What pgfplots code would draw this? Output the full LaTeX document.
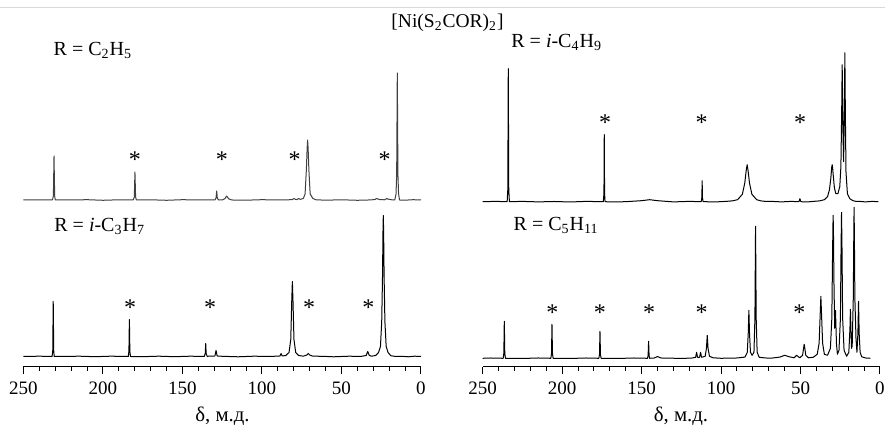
\documentclass[border=0pt]{standalone}
\usepackage{pgfplots}
\pgfplotsset{compat=1.18}
\usepackage{fontspec}
\setmainfont{Liberation Serif}
\newcommand{\lbl}{\fontsize{10}{11}\selectfont}
\newcommand{\astmark}[2]{\node[inner sep=0pt,font=\fontsize{12}{12}\selectfont] at (axis cs:#1,#2) {*};}
\pgfplotsset{
  spec/.style={scale only axis, x dir=reverse, xmin=0, xmax=250, clip=false,
    anchor=south west},
  specline/.style={black, line width=0.5pt, line join=round},
  bot/.style={hide y axis, axis x line*=bottom, x axis line style={-, line width=0.5pt},
    tick align=outside, xtick={0,50,...,250}, minor x tick num=4,
    major tick length=3.5pt, minor tick length=2pt,
    every tick/.style={black, line width=0.5pt},
    xticklabel style={font=\fontsize{9.5}{9.5}\selectfont, yshift=-0.5pt},
    /pgf/number format/assume math mode=true},
}
\begin{document}
\begin{tikzpicture}[x=1pt,y=1pt]
\useasboundingbox (0pt,0pt) rectangle (442.5pt,213pt);
\draw[gray!30, line width=0.5pt] (0pt,209pt) -- (442.5pt,209pt);

% left top: R = C2H5
\begin{axis}[spec, hide axis, at={(11.75pt,108pt)}, width=198.75pt, height=75pt, ymin=-10, ymax=140]
\addplot[specline, black!75] coordinates {
(0,0)(5,0.3)(10,-0.2)(13.5,0)(14.1,6)(14.5,25)(14.9,127)(15.3,25)(15.7,6)(16.5,0)(19,0.3)(21,1.0)(21.5,1.5)(22,1.0)(23,0.2)(26,0.4)(28,1.5)(29,0.4)(33,0)(40,-0.3)(50,0.2)(60,-0.2)(66,0.2)(68,1.5)(69.7,6)(70.5,30)(71.0,52)(71.3,60)(71.6,52)(72.1,30)(72.9,6)(74,1.5)(76,0.6)(77,1.5)(78,0.4)(79,0.6)(80,1.5)(81,0.3)(90,0)(100,0.3)(110,-0.2)(119,0)(121,1.2)(122.2,4)(123.4,1.2)(125,0)(127.5,0.2)(128.1,2)(128.5,9)(128.9,2)(129.5,0.2)(140,0)(150,0.3)(160,-0.3)(170,0.2)(179,0)(179.5,3)(179.9,28)(180.3,3)(181,0)(190,0.2)(200,-0.3)(210,0.3)(220,0)(230,0)(230.4,4)(230.8,44)(231.2,4)(231.8,0)(240,0.2)(250,0)
};
\astmark{180}{40}\astmark{125.3}{40}\astmark{79.4}{40}\astmark{22.8}{40}
\end{axis}

% left bottom: R = i-C3H7
\begin{axis}[spec, bot, at={(11.75pt,29.5pt)}, width=198.75pt, height=75.25pt, ymin=-10.5, ymax=140]
\addplot[specline] coordinates {
(0,0)(4,0.3)(8,-0.3)(12,0.2)(16,0)(19,0.8)(20.7,4)(21.9,10)(22.7,35)(23.2,80)(23.5,125)(23.7,141)(23.9,125)(24.2,80)(24.7,35)(25.5,10)(26.7,4)(28.5,1)(31,0.3)(32.5,1)(33.5,5)(34.5,1)(38,0)(45,0.3)(55,-0.3)(62,0.2)(68,0.3)(70,1.5)(70.9,3)(71.8,1.5)(74,0.3)(77,1)(78.8,4)(79.9,17)(80.5,55)(80.9,75)(81.3,55)(81.9,17)(83,4)(85,1)(87.3,0.5)(88,3)(88.7,0.5)(95,0)(105,0.3)(115,-0.3)(125,0.2)(128.2,0.5)(128.9,6)(129.6,0.5)(134.5,0.2)(135.1,3)(135.4,13)(135.7,3)(136.3,0)(145,0.3)(155,-0.2)(165,0.3)(175,-0.2)(182.7,0)(183.1,5)(183.4,37)(183.7,5)(184.1,0)(195,0.3)(205,-0.2)(215,0.3)(225,0)(230.7,0)(231.0,6)(231.3,55)(231.6,6)(232,0)(240,0.3)(250,0)
};
\astmark{183}{49}\astmark{132.7}{49}\astmark{70.3}{49}\astmark{33.1}{49}
\end{axis}

% right top: R = i-C4H9
\begin{axis}[spec, hide axis, at={(241.35pt,107.15pt)}, width=198.65pt, height=80pt, ymin=-10, ymax=150]
\addplot[specline] coordinates {
(1,0)(5,0.3)(9,-0.2)(13,0.3)(15,0.3)(17,1)(19,3)(20.5,8)(21.4,30)(21.8,90)(22.1,149)(22.4,90)(22.9,40)(23.3,70)(23.6,115)(23.8,137)(24.1,90)(24.6,35)(25.3,15)(26.5,8)(27.8,8)(28.7,14)(29.4,26)(29.8,34)(30.1,37)(30.4,34)(30.9,24)(31.8,12)(33,5)(35,2)(38,0.8)(42,0.3)(46,-0.3)(49.8,0)(50.4,3)(51,0)(56,0.3)(62,-0.2)(68,0.3)(72,0.3)(75,0.8)(77.6,2)(80.6,7.4)(82.1,18.5)(83,31)(83.6,37)(84.2,31)(85.1,18.5)(86.6,7.4)(89.6,2)(93,0.8)(97,0.3)(103,-0.2)(111.3,0)(111.7,4)(111.9,21)(112.1,4)(112.5,0)(120,0.3)(130,-0.2)(140,1)(145,2)(150,1)(160,0)(168,-0.3)(173,0)(173.3,8)(173.5,67)(173.7,8)(174.1,0)(185,0.3)(195,-0.3)(205,0.2)(215,-0.2)(225,0.3)(233.2,0)(233.6,12)(233.9,133)(234.2,12)(234.6,0)(242,0.3)(250,0)
};
\astmark{173}{79}\astmark{112.3}{79}\astmark{50.3}{79}
\end{axis}

% right bottom: R = C5H11
\begin{axis}[spec, bot, at={(241.35pt,29.5pt)}, width=198.65pt, height=79.35pt, ymin=-8.7, ymax=150]
\addplot[specline] coordinates {
(6,0)(9,0.3)(11.5,1.5)(12.5,6)(13.1,25)(13.5,57)(13.9,25)(14.5,6)(15.1,20)(15.8,60)(16.1,120)(16.3,151)(16.5,120)(16.8,60)(17.5,12)(17.9,10)(18.3,30)(18.6,49)(18.9,30)(19.6,6)(21,2)(22.6,8)(23.5,40)(23.9,110)(24.2,146)(24.5,110)(24.9,40)(25.8,8)(26.8,4)(27.4,15)(28,48)(28.5,30)(29,80)(29.3,130)(29.5,143)(29.8,110)(30.3,40)(31.2,10)(33,3)(35,4)(36.1,15)(36.8,45)(37.2,62)(37.6,45)(38.3,15)(39.5,4)(42,1)(45,0.5)(46.7,3)(47.3,10)(47.7,14)(48.1,10)(48.7,3)(50.5,0.5)(52.5,3)(54,0.5)(57,1.5)(60,3)(63,1.2)(68,0.2)(72,0.3)(76,1)(77.3,6)(77.9,40)(78.3,132)(78.7,40)(79.3,6)(80.5,3)(81.5,6)(82.1,25)(82.5,48)(82.9,25)(83.5,6)(85,1.2)(90,0.3)(100,0)(105,0.5)(107.3,2)(108.2,10)(108.7,23)(109.2,10)(110,2)(112.3,1)(112.9,6)(113.5,1)(114.8,1)(115.4,6)(116,1)(118,0.3)(125,-0.2)(133,0.2)(138,0.3)(140,1.8)(142,0.3)(145,0)(145.3,3)(145.6,17)(145.9,3)(146.3,0)(155,0.3)(165,-0.2)(175.5,0)(175.9,4)(176.2,27)(176.5,4)(176.9,0)(185,0.3)(195,-0.2)(205.7,0)(206.1,5)(206.4,34)(206.7,5)(207.1,0)(215,0.3)(225,-0.2)(235.7,0)(236.1,5)(236.4,37)(236.7,5)(237.1,0)(245,0.3)(250,0)
};
\astmark{206.2}{46}\astmark{176.2}{46}\astmark{145.3}{46}\astmark{112.2}{46}\astmark{50.8}{46}
\end{axis}

% texts
\node[anchor=base, inner sep=0pt, font=\fontsize{9.75}{11}\selectfont] at (223.75pt,199pt) {[Ni(S\textsubscript{2}COR)\textsubscript{2}]};
\node[anchor=base west, inner sep=0pt, font=\lbl] at (26.65pt,185pt) {R = C\textsubscript{2}H\textsubscript{5}};
\node[anchor=base west, inner sep=0pt, font=\lbl] at (27pt,97pt) {R = \textit{i}-C\textsubscript{3}H\textsubscript{7}};
\node[anchor=base west, inner sep=0pt, font=\lbl] at (255.5pt,189pt) {R = \textit{i}-C\textsubscript{4}H\textsubscript{9}};
\node[anchor=base west, inner sep=0pt, font=\lbl] at (256.65pt,97.65pt) {R = C\textsubscript{5}H\textsubscript{11}};
\node[anchor=base, inner sep=0pt, font=\fontsize{10.4}{11}\selectfont] at (111.25pt,2.3pt) {δ, м.д.};
\node[anchor=base, inner sep=0pt, font=\fontsize{10.4}{11}\selectfont] at (340.5pt,2.3pt) {δ, м.д.};
\end{tikzpicture}
\end{document}
